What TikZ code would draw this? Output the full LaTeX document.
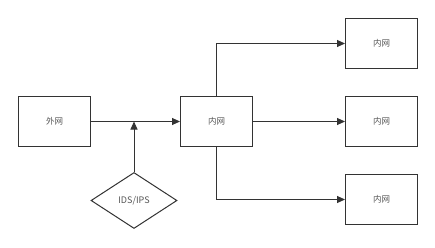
\documentclass[tikz,border=0pt]{standalone}
\usepackage{fontspec}
\usepackage{xcolor}
\usetikzlibrary{positioning,arrows.meta,shapes.geometric}
\newfontfamily\cjk{Noto Sans CJK SC}
\definecolor{linegray}{RGB}{51,51,51}
\definecolor{textgray}{RGB}{85,85,85}
\tikzset{
  netbox/.style = {draw=linegray, line width=1pt, fill=white, minimum width=72pt, minimum height=50pt,
                   font=\cjk\fontsize{8.5}{10}\selectfont, text=textgray, inner sep=0pt},
  guard/.style  = {draw=linegray, line width=1pt, fill=white, shape=diamond, aspect=1.5,
                   minimum width=86pt, minimum height=56pt, inner sep=0pt,
                   font=\cjk\fontsize{9}{10}\selectfont, text=textgray},
  flow/.style   = {-{Triangle[length=8pt,width=7pt]}, line width=1pt, draw=linegray},
}

\begin{document}
\begin{tikzpicture}[x=1pt, y=1pt, node distance=27pt]
  \useasboundingbox (0,0) rectangle (435,-248);
  \node[netbox] (ext) at (54.5,-121.5) {外网};
  \node[netbox, right=89pt of ext] (core) {内网};
  \node[netbox, right=92pt of core] (lanB) {内网};
  \node[netbox, above=27pt of lanB] (lanA) {内网};
  \node[netbox, below=27pt of lanB] (lanC) {内网};
  \node[guard] (ids) at (134,-200.5) {IDS/IPS};
  \draw[flow] (ext) -- (core);
  \draw[flow] (ids.north) -- (ids.north |- ext.east);
  \draw[flow] (core.north) |- (lanA.west);
  \draw[flow] (core) -- (lanB);
  \draw[flow] (core.south) |- (lanC.west);
\end{tikzpicture}
\end{document}
